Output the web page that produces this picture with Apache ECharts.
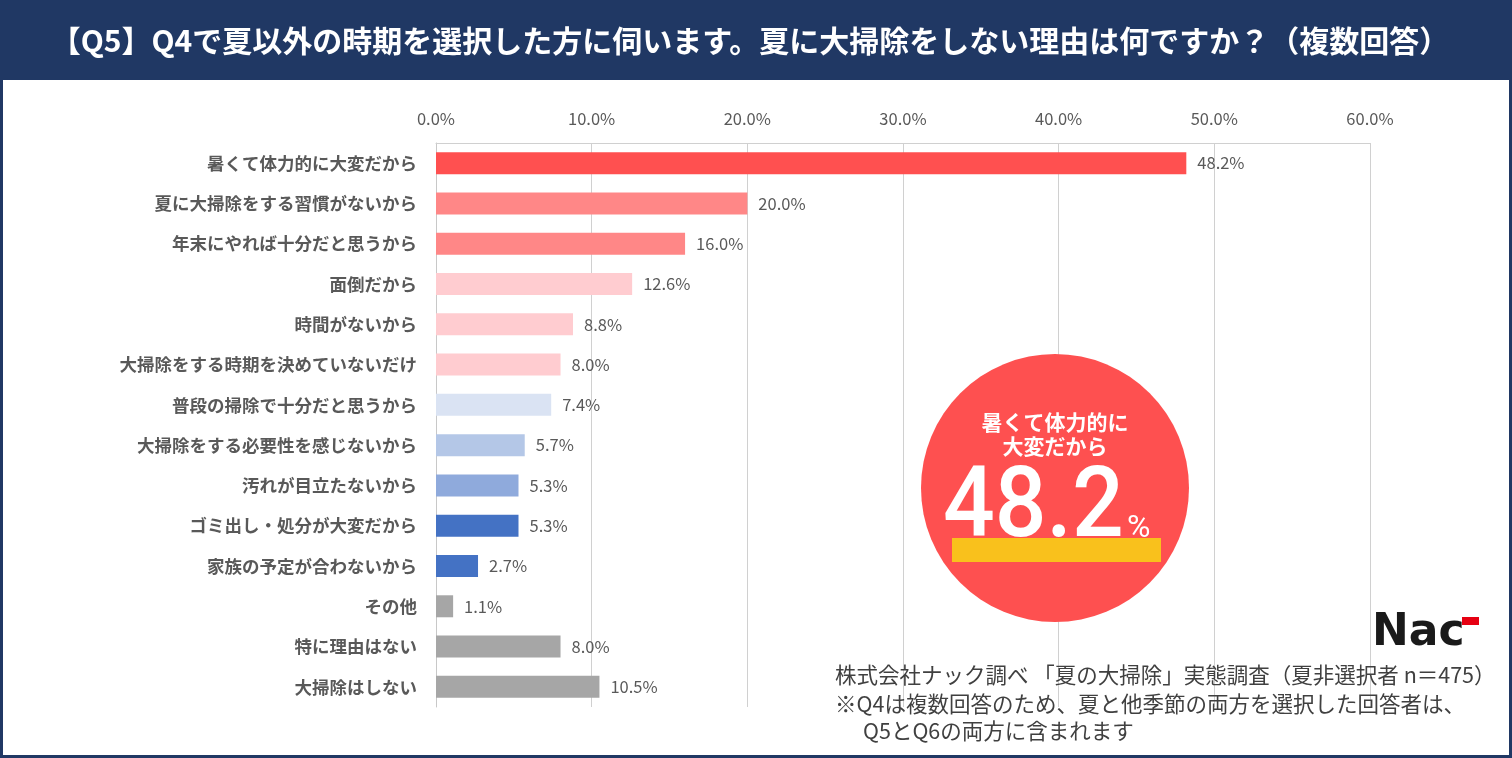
<!DOCTYPE html>
<html>
<head>
<meta charset="utf-8">
<script src="https://cdn.jsdelivr.net/npm/echarts@6/dist/echarts.min.js"></script>
<style>
html, body { margin: 0; padding: 0; background: #fff; }
#main { width: 1512px; height: 758px; }
</style>
</head>
<body>
<div id="main"></div>
<script>
var categories = [
    '暑くて体力的に大変だから',
    '夏に大掃除をする習慣がないから',
    '年末にやれば十分だと思うから',
    '面倒だから',
    '時間がないから',
    '大掃除をする時期を決めていないだけ',
    '普段の掃除で十分だと思うから',
    '大掃除をする必要性を感じないから',
    '汚れが目立たないから',
    'ゴミ出し・処分が大変だから',
    '家族の予定が合わないから',
    'その他',
    '特に理由はない',
    '大掃除はしない'
]
var values = [48.2, 20.0, 16.0, 12.6, 8.8, 8.0, 7.4, 5.7, 5.3, 5.3, 2.7, 1.1, 8.0, 10.5]
var barColors = [
    '#ff5050', '#ff8787', '#ff8787',
    '#ffccd0', '#ffccd0', '#ffccd0',
    '#dae3f3', '#b4c7e7', '#8faadc',
    '#4472c4', '#4472c4',
    '#a6a6a6', '#a6a6a6', '#a6a6a6'
]
var tickLabels = ['0.0%', '10.0%', '20.0%', '30.0%', '40.0%', '50.0%', '60.0%']

var navy = '#203864'
var jp = '"Noto Sans CJK JP", "Noto Sans", sans-serif'

var myChart = echarts.init(document.getElementById('main'))

var option = {
    backgroundColor: '#fff',
    animation: false,
    grid: {
        left: 436,
        right: 142,
        top: 143,
        bottom: 51
    },
    xAxis: {
        type: 'value',
        position: 'top',
        min: 0,
        max: 60,
        interval: 10,
        axisLine: { show: true, lineStyle: { color: '#d0d0d0', width: 1 } },
        axisTick: { show: false },
        splitLine: { show: true, lineStyle: { color: '#d0d0d0', width: 1 } },
        axisLabel: {
            margin: 16,
            fontSize: 16.5,
            color: '#595959',
            fontFamily: jp,
            formatter: function (v) {
                return tickLabels[Math.round(v / 10)]
            }
        }
    },
    yAxis: {
        type: 'category',
        inverse: true,
        data: categories,
        axisLine: { show: true, lineStyle: { color: '#c8c8c8', width: 1 } },
        axisTick: { show: false },
        axisLabel: {
            margin: 19,
            fontSize: 17.5,
            fontWeight: 'bold',
            color: '#595959',
            fontFamily: jp
        }
    },
    series: [
        {
            type: 'bar',
            barWidth: 22,
            data: values.map(function (v, i) {
                return { value: v, itemStyle: { color: barColors[i] } }
            }),
            label: {
                show: true,
                position: 'right',
                distance: 11,
                fontSize: 16.5,
                color: '#595959',
                fontFamily: jp,
                formatter: function (p) {
                    return p.value.toFixed(1) + '%'
                }
            }
        }
    ],
    graphic: [
        {
            type: 'rect',
            shape: { x: 0, y: 0, width: 1512, height: 80 },
            style: { fill: navy },
            z: 10
        },
        {
            type: 'text',
            x: 750,
            y: 41,
            style: {
                text: '【Q5】Q4で夏以外の時期を選択した方に伺います。夏に大掃除をしない理由は何ですか？（複数回答）',
                fill: '#fff',
                font: 'bold 30px ' + jp,
                align: 'center',
                verticalAlign: 'middle'
            },
            z: 11
        },
        {
            type: 'circle',
            shape: { cx: 1055, cy: 488, r: 134 },
            style: { fill: '#fe5050' },
            z: 10
        },
        {
            type: 'text',
            x: 1055,
            y: 422,
            style: {
                text: '暑くて体力的に',
                fill: '#fff',
                font: 'bold 21px ' + jp,
                align: 'center',
                verticalAlign: 'middle'
            },
            z: 11
        },
        {
            type: 'text',
            x: 1055,
            y: 446,
            style: {
                text: '大変だから',
                fill: '#fff',
                font: 'bold 21px ' + jp,
                align: 'center',
                verticalAlign: 'middle'
            },
            z: 11
        },
        {
            type: 'rect',
            shape: { x: 952, y: 538, width: 209, height: 24 },
            style: { fill: '#f9c11c' },
            z: 11
        },
        {
            type: 'text',
            x: 943,
            y: 511,
            scaleX: 0.93,
            style: {
                text: '48.2',
                fill: '#fff',
                font: '500 98px Roboto, "Liberation Sans", sans-serif',
                align: 'left',
                verticalAlign: 'middle'
            },
            z: 12
        },
        {
            type: 'text',
            x: 1127,
            y: 529,
            style: {
                text: '%',
                fill: '#fff',
                font: '32px Roboto, "Liberation Sans", sans-serif',
                align: 'left',
                verticalAlign: 'middle'
            },
            z: 12
        },
        {
            type: 'text',
            x: 1372,
            y: 634,
            style: {
                text: 'Nac',
                fill: '#1a1a1a',
                font: '900 44px "DejaVu Sans", sans-serif',
                align: 'left',
                verticalAlign: 'middle'
            },
            z: 11
        },
        {
            type: 'rect',
            shape: { x: 1462, y: 617, width: 17, height: 8 },
            style: { fill: '#e60012' },
            z: 12
        },
        {
            type: 'text',
            x: 835,
            y: 675,
            style: {
                text: '株式会社ナック調べ 「夏の大掃除」実態調査（夏非選択者 n＝475）',
                fill: '#404040',
                font: '21.5px ' + jp,
                align: 'left',
                verticalAlign: 'middle'
            },
            z: 11
        },
        {
            type: 'text',
            x: 835,
            y: 704,
            style: {
                text: '※Q4は複数回答のため、夏と他季節の両方を選択した回答者は、',
                fill: '#404040',
                font: '21.5px ' + jp,
                align: 'left',
                verticalAlign: 'middle'
            },
            z: 11
        },
        {
            type: 'text',
            x: 863,
            y: 731,
            style: {
                text: 'Q5とQ6の両方に含まれます',
                fill: '#404040',
                font: '21.5px ' + jp,
                align: 'left',
                verticalAlign: 'middle'
            },
            z: 11
        },
        {
            type: 'rect',
            shape: { x: 1.5, y: 1.5, width: 1509, height: 755 },
            style: { fill: null, stroke: navy, lineWidth: 3 },
            z: 20
        }
    ]
}

myChart.setOption(option)
</script>
</body>
</html>
